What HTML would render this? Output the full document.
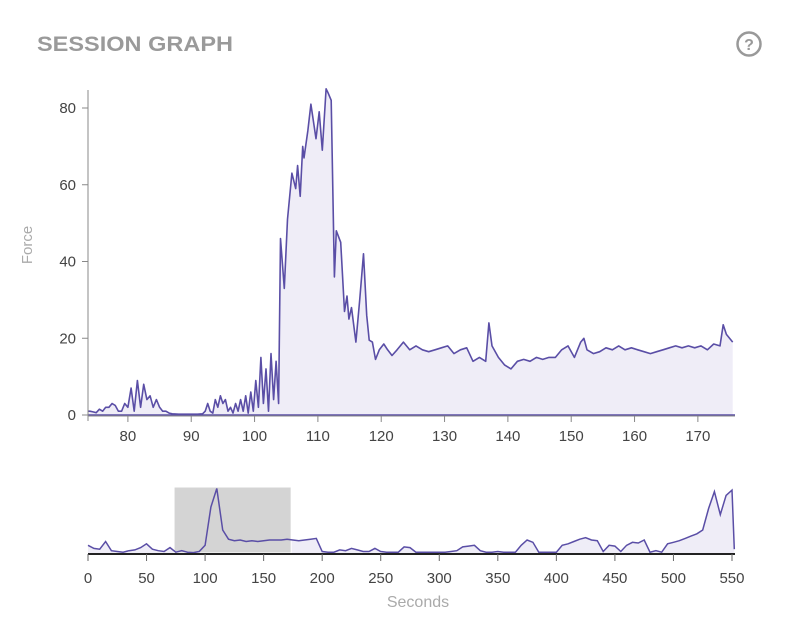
<!DOCTYPE html>
<html><head><meta charset="utf-8"><style>
body{margin:0;background:#fff;font-family:"Liberation Sans",sans-serif;}
svg text{font-family:"Liberation Sans",sans-serif;}
</style></head><body>
<svg id="chart" width="800" height="633">
<text x="37" y="51" font-size="21" font-weight="bold" fill="#9a9a9a" textLength="196" lengthAdjust="spacingAndGlyphs">SESSION GRAPH</text>
<g>
<circle cx="749" cy="44" r="11.5" fill="none" stroke="#999" stroke-width="2.5"/>
<text x="749" y="50" font-size="16" font-weight="bold" fill="#999" text-anchor="middle">?</text>
</g>
<text transform="translate(32,245) rotate(-90)" font-size="15" fill="#aaa" text-anchor="middle">Force</text>
<text x="418" y="607" font-size="16" fill="#aaa" text-anchor="middle">Seconds</text>
<g id="main"></g>
<g id="mini"></g>
</svg>
<script>
const mainTimes=[73.7,74,74.5,75,75.5,76,76.5,77,77.5,78,78.5,79,79.5,80,80.5,81,81.5,82,82.5,83,83.5,84,84.5,85,85.5,86,86.5,87,
88,89,90,91,91.8,92.2,92.6,93,93.4,93.8,94.2,94.6,95,95.4,95.8,96.2,96.6,97,97.4,97.8,98.2,98.6,99,99.4,99.8,100.2,100.6,101,101.4,101.8,102.2,102.6,103,103.4,103.8,
104.1,104.7,105.2,105.9,106.5,106.8,107.2,107.6,107.8,108.4,108.9,109.7,110.2,110.7,111.3,111.6,112.1,112.6,112.9,113.6,114.2,114.6,114.9,115.3,116,116.6,117.2,117.7,118.1,118.6,119.1,119.7,120.4,121,121.7,
122.5,123.5,124.5,125.5,126.5,127.5,128.5,129.5,130.5,131.5,132.5,133.5,134.5,135.5,136.5,
137,137.5,138.5,139.5,140.5,141.5,142.5,143.5,144.5,145.5,146.5,147.5,148.5,149.5,150.5,151.5,152,152.5,
153.5,154.5,155.5,156.5,157.5,158.5,159.5,160.5,161.5,162.5,163.5,164.5,165.5,166.5,167.5,168.5,169.5,170.5,171.5,172.5,173.5,174,174.5,175.5];
const mainValues=[1,1,0.8,0.6,1.5,1,2,2,3,2.5,1,1,3,2,7,1,9,2,8,4,5,2,4,2,1,1,0.5,0.3,
0.2,0.2,0.2,0.2,0.3,1,3,1,0.5,4,2,5,3,4,1,2,0.5,3,1,4,1,5,0.5,6,1,9,2,15,3,12,1,16,4,14,3,
46,33,51,63,59,65,57,70,67,74,81,72,79,69,85,84,82,36,48,45,27,31,25,28,19,30,42,26,19.5,19,14.5,17,18.5,17,15.5,
17,19,17,18,17,16.5,17,17.5,18,16,17,17.5,14,15,14,
24,18,15,13,12,14,14.5,14,15,14.5,15,15,17,18,15,19,20,17,
16,16.5,17.5,17,18,17,17.5,17,16.5,16,16.5,17,17.5,18,17.5,18,17.5,18,17,18.5,18,23.5,21,19];
const miniTimes=[0,5,10,15,20,25,30,35,40,45,50,55,60,65,70,75,80,85,90,95,100,105,110,115,120,125,130,135,140,145,150,155,160,165,170,175,180,185,190,195,200,205,210,215,220,225,230,235,240,245,250,255,260,265,270,275,280,285,290,295,300,305,310,315,320,325,330,335,340,345,350,355,360,365,370,375,380,385,390,395,400,405,410,415,420,425,430,435,440,445,450,455,460,465,470,475,480,485,490,495,500,505,510,515,520,525,530,535,540,545,550,552];
const miniValues=[10,6,5,15,3,2,1,3,4,7,12,5,3,2,7,1,3,1,0.5,2,10,60,84,30,18,16,17,15,16,15,16,17,17,17,18,17,16,17,18,19,2,1,1,4,3,6,4,2,2,6,2,1,1,1,8,7,1,1,1,1,1,1,2,3,8,9,10,3,1,1,2,1,1,1,10,17,14,1,1,1,1,10,12,15,18,20,17,16,2,10,9,2,10,14,13,17,1,3,1,12,14,16,19,22,25,30,58,80,50,75,82,5];
const mainXTicks=[80,90,100,110,120,130,140,150,160,170];
const mainYTicks=[0,20,40,60,80];
const miniXTicks=[0,50,100,150,200,250,300,350,400,450,500,550];
const brushRange=[73.5,173.5];

const NS="http://www.w3.org/2000/svg";
function mk(tag,attrs,parent){const e=document.createElementNS(NS,tag);for(const k in attrs)e.setAttribute(k,attrs[k]);parent.appendChild(e);return e;}
const n=Math.min(mainTimes.length,mainValues.length);
const mx=t=>88+(t-73.7)*6.333, my=v=>415-v*3.8375;
const main=document.getElementById('main');
let d='';for(let i=0;i<n;i++)d+=(i?'L':'M')+mx(mainTimes[i]).toFixed(1)+','+my(mainValues[i]).toFixed(1);
const area=mk('path',{d:d+'L'+mx(mainTimes[n-1]).toFixed(1)+',415L'+mx(mainTimes[0]).toFixed(1)+',415Z',fill:'#efedf7'},main);


const line=mk('path',{d:d,fill:'none',stroke:'#5a4ea6','stroke-width':1.6,'stroke-linejoin':'round'},main);


mk('line',{x1:88,y1:415,x2:735,y2:415,stroke:'#5a4ea6','stroke-width':1.5},main);
mk('line',{x1:88,y1:90,x2:88,y2:421,stroke:'#888','stroke-width':1},main);
mk('line',{x1:88,y1:416,x2:735,y2:416,stroke:'#888','stroke-width':1},main);
mainXTicks.forEach(t=>{mk('line',{x1:mx(t),y1:416,x2:mx(t),y2:422,stroke:'#888'},main);
 const tx=mk('text',{x:mx(t),y:441,'font-size':15,fill:'#444','text-anchor':'middle'},main);tx.textContent=t;
 
 });
mainYTicks.forEach(v=>{mk('line',{x1:82,y1:my(v),x2:88,y2:my(v),stroke:'#888'},main);
 const tx=mk('text',{x:76,y:my(v)+5,'font-size':15,fill:'#444','text-anchor':'end'},main);tx.textContent=v;
 
 });
const m2=Math.min(miniTimes.length,miniValues.length);
const nx=t=>88+t*1.1709, ny=v=>553-v*66/86;
const mini=document.getElementById('mini');
let d2='';for(let i=0;i<m2;i++)d2+=(i?'L':'M')+nx(miniTimes[i]).toFixed(1)+','+ny(miniValues[i]).toFixed(1);
const a2=mk('path',{d:d2+'L'+nx(miniTimes[m2-1]).toFixed(1)+',553L88,553Z',fill:'#efedf7'},mini);


const br=mk('rect',{x:nx(brushRange[0]),y:487,width:nx(brushRange[1])-nx(brushRange[0]),height:66,fill:'#d4d4d4',stroke:'#fff','stroke-width':1},mini);


const l2=mk('path',{d:d2,fill:'none',stroke:'#5a4ea6','stroke-width':1.5},mini);


mk('line',{x1:88,y1:554,x2:735,y2:554,stroke:'#222','stroke-width':2},mini);
miniXTicks.forEach(t=>{mk('line',{x1:nx(t),y1:554,x2:nx(t),y2:561,stroke:'#666'},mini);
 const tx=mk('text',{x:nx(t),y:583,'font-size':15,fill:'#444','text-anchor':'middle'},mini);tx.textContent=t;
 
 });
</script>
</body></html>
